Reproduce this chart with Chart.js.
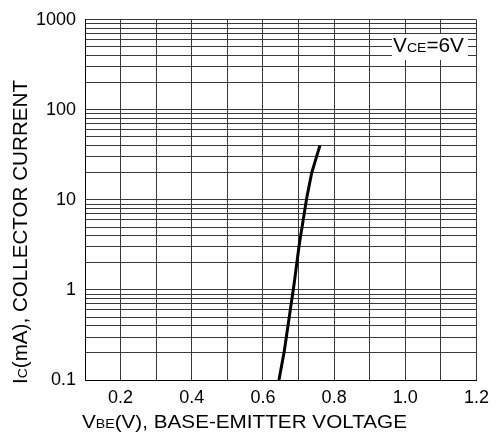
<!DOCTYPE html>
<html>
<head>
<meta charset="utf-8">
<script src="https://cdn.jsdelivr.net/npm/chart.js@4"></script>
<style>
html,body{margin:0;padding:0;background:#fff;}
#wrap{position:relative;width:496px;height:437px;}
</style>
</head>
<body>
<div id="wrap"><canvas id="c" width="496" height="437"></canvas></div>
<script>
// Data
const vbe = [0.645, 0.66, 0.688, 0.702, 0.723, 0.737, 0.76];
const icMA = [0.1, 0.21, 1.2, 3.2, 10.5, 20, 40];
const xTicks = [0.1,0.2,0.3,0.4,0.5,0.6,0.7,0.8,0.9,1.0,1.1,1.2];
const xLabels = ['', '0.2', '', '0.4', '', '0.6', '', '0.8', '', '1.0', '', '1.2'];
const yDecades = [0.1, 1, 10, 100, 1000];
const yLabels = ['0.1', '1', '10', '100', '1000'];

const FONT = '"Liberation Sans", Arial, sans-serif';

const yTickVals = [];
for (let d = 0; d < yDecades.length - 1; d++) {
  for (let m = 1; m <= 9; m++) yTickVals.push(+(yDecades[d] * m).toPrecision(3));
}
yTickVals.push(yDecades[yDecades.length - 1]);

const titlePlugin = {
  id: 'titles',
  afterDraw(chart) {
    const ctx = chart.ctx;
    ctx.save();
    ctx.fillStyle = '#000';
    ctx.textBaseline = 'alphabetic';
    ctx.textAlign = 'left';
    function widthOf(parts) {
      let w = 0;
      for (const [t, size] of parts) {
        ctx.font = size + 'px ' + FONT;
        w += ctx.measureText(t).width;
      }
      return w;
    }
    // draw parts stretched along the baseline to a target length
    function seq(parts, x, y, target) {
      const s = target / widthOf(parts);
      ctx.save();
      ctx.translate(x, y);
      ctx.scale(s, 1);
      let cx = 0;
      for (const [t, size] of parts) {
        ctx.font = size + 'px ' + FONT;
        ctx.fillText(t, cx, 0);
        cx += ctx.measureText(t).width;
      }
      ctx.restore();
    }
    // x-axis title
    seq([['V', 19], ['BE', 13], ['(V), BASE-EMITTER VOLTAGE', 19]], 82, 428, 325);
    // y-axis title
    ctx.save();
    ctx.translate(27, 384);
    ctx.rotate(-Math.PI / 2);
    seq([['I', 20], ['C', 13.5], ['(mA), COLLECTOR CURRENT', 20]], 0, 0, 304);
    ctx.restore();
    // annotation
    ctx.fillStyle = '#fff';
    ctx.fillRect(392, 34, 76, 26);
    ctx.fillStyle = '#000';
    seq([['V', 20], ['CE', 13.5], ['=6V', 20]], 393, 52, 71);
    ctx.restore();
  }
};

new Chart(document.getElementById('c'), {
  type: 'line',
  data: {
    datasets: [{
      data: vbe.map((v, i) => ({x: v, y: icMA[i]})),
      borderColor: '#000',
      borderWidth: 3,
      pointRadius: 0,
      tension: 0,
      fill: false
    }]
  },
  options: {
    responsive: false,
    animation: false,
    devicePixelRatio: 1,
    layout: {padding: {left: 0, right: 19, top: 18, bottom: 0}},
    plugins: {legend: {display: false}, tooltip: {enabled: false}},
    scales: {
      x: {
        type: 'linear',
        min: 0.1, max: 1.2,
        afterBuildTicks(s) { s.ticks = xTicks.map(v => ({value: v})); },
        afterFit(s) { s.height = 57; },
        ticks: {
          autoSkip: false, maxRotation: 0,
          color: '#000', padding: 7,
          font: {family: FONT, size: 18},
          callback(v, i) { return xLabels[i]; }
        },
        grid: {color: '#3a3a3a', lineWidth: 1, drawTicks: false},
        border: {color: '#000', width: 1}
      },
      y: {
        type: 'logarithmic',
        min: 0.1, max: 1000,
        afterBuildTicks(s) { s.ticks = yTickVals.map(v => ({value: v})); },
        afterFit(s) { s.width = 85; },
        ticks: {
          autoSkip: false, color: '#000', padding: 9,
          font: {family: FONT, size: 18},
          callback(v) {
            const k = yDecades.findIndex(d => Math.abs(d - v) < 1e-9 * d);
            return k >= 0 ? yLabels[k] : '';
          }
        },
        grid: {color: '#3a3a3a', lineWidth: 1, drawTicks: false},
        border: {color: '#000', width: 1}
      }
    }
  },
  plugins: [titlePlugin]
});
</script>
</body>
</html>
